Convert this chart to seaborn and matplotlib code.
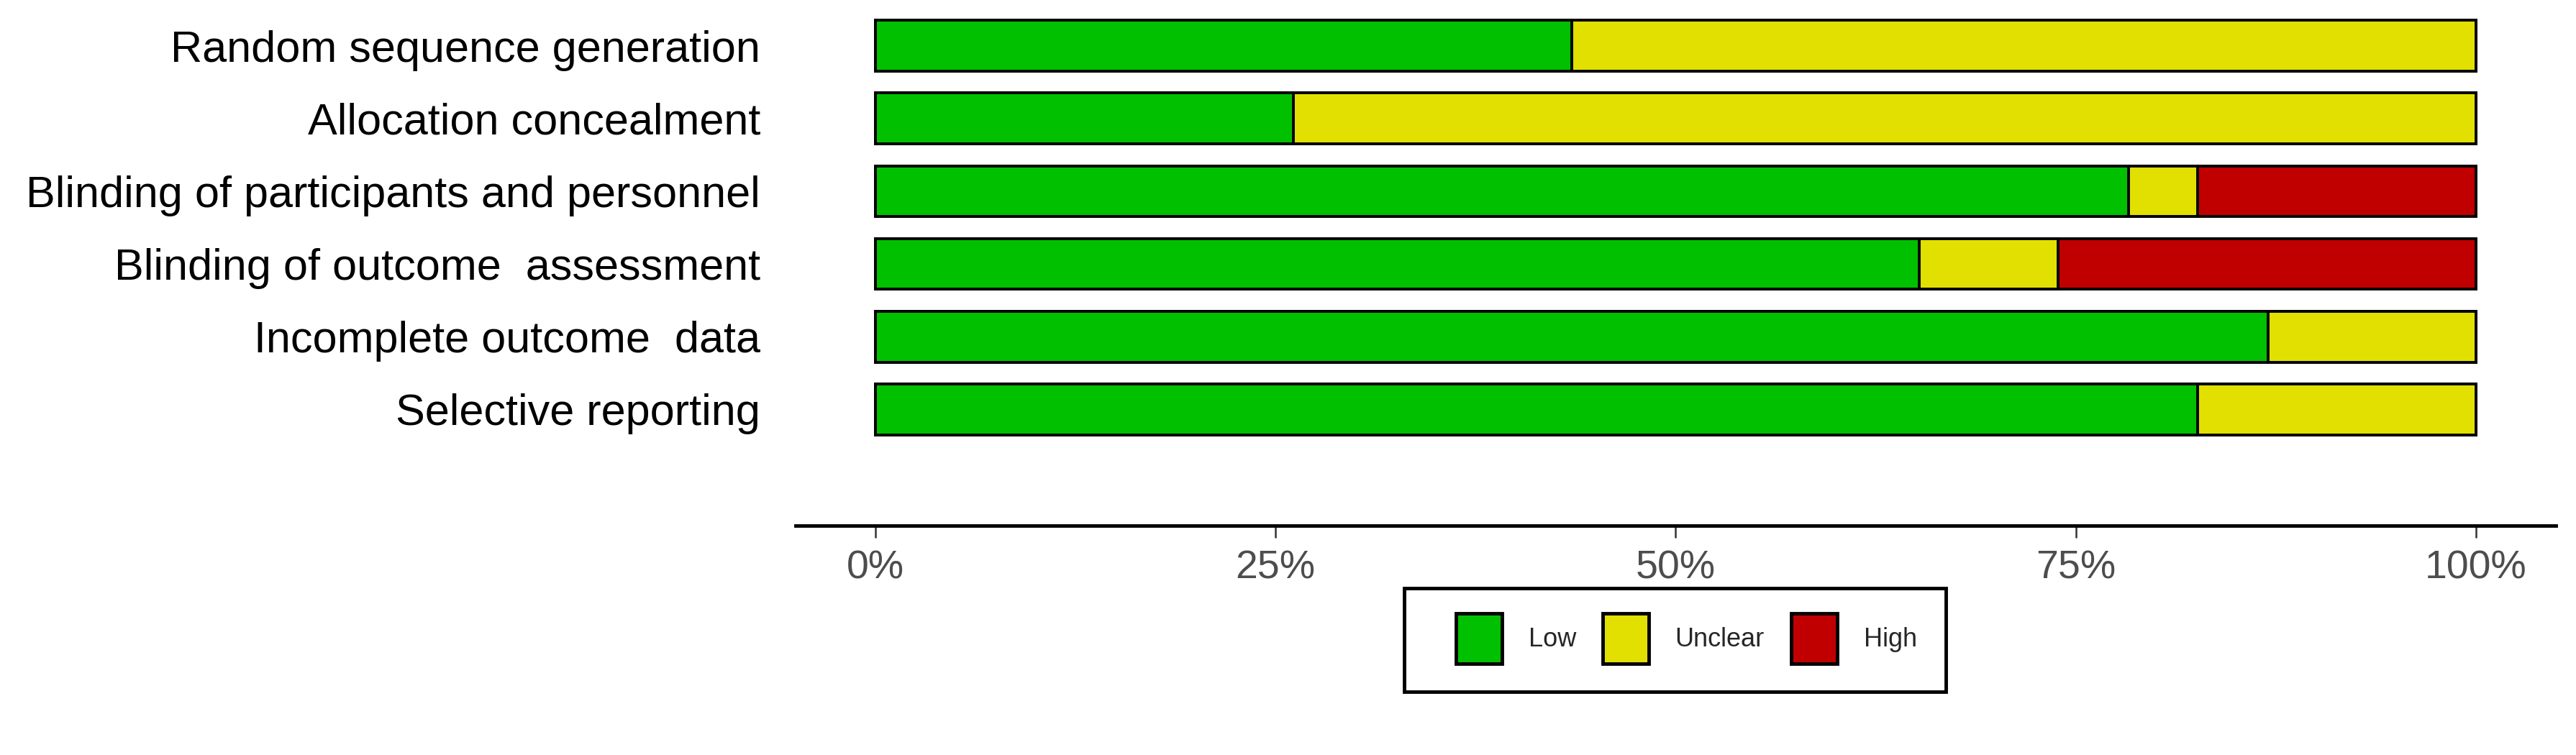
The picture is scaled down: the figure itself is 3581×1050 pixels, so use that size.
import numpy as np
import pandas as pd
import seaborn as sns
import matplotlib.pyplot as plt
from matplotlib.patches import Patch, Rectangle

# risk of bias summary (percent of studies)
domains = ['Random sequence generation', 'Allocation concealment',
           'Blinding of participants and personnel', 'Blinding of outcome  assessment',
           'Incomplete outcome  data', 'Selective reporting']
low = [43.5, 26.1, 78.3, 65.2, 87.0, 82.6]
unclear = [56.5, 73.9, 4.3, 8.7, 13.0, 17.4]
high = [0.0, 0.0, 17.4, 26.1, 0.0, 0.0]
levels = ['Low', 'Unclear', 'High']
colors = {'Low': '#00C000', 'Unclear': '#E2E000', 'High': '#C00000'}
ticks = [0, 25, 50, 75, 100]
tick_labels = ['0%', '25%', '50%', '75%', '100%']

df = pd.DataFrame({'domain': domains, 'Low': low, 'Unclear': unclear, 'High': high})
df['cum_low'] = df['Low']
df['cum_unclear'] = df['Low'] + df['Unclear']
df['cum_high'] = df['cum_unclear'] + df['High']

sns.set_style('white')
plt.rcParams['font.family'] = ['Liberation Sans', 'DejaVu Sans']

fig = plt.figure(figsize=(35.81, 10.5), dpi=100)
ax = fig.add_axes([0.3088, 0.3038, 0.6834, 0.6962])

# stacked bars drawn back to front
for col, lev in [('cum_high', 'High'), ('cum_unclear', 'Unclear'), ('cum_low', 'Low')]:
    sns.barplot(data=df, x=col, y='domain', orient='h', color=colors[lev],
                width=0.7, edgecolor='black', linewidth=2.8, saturation=1, ax=ax)

ax.set_xlim(-5, 105)
ax.set_ylim(6.6, -0.63)
ax.set_xticks(ticks)
ax.set_xticklabels(tick_labels, fontsize=40, color='#4D4D4D')
ax.tick_params(axis='x', length=12, width=1.8, color='#333333', pad=12, bottom=True)
ax.tick_params(axis='y', length=0, pad=35, labelsize=44, labelcolor='black')
ax.set_xlabel('')
ax.set_ylabel('')
for s in ['top', 'right', 'left']:
    ax.spines[s].set_visible(False)
ax.spines['bottom'].set_color('black')
ax.spines['bottom'].set_linewidth(3.5)

# legend entries, box drawn separately (wider left margin like the original)
handles = [Patch(facecolor=colors[l], edgecolor='black', linewidth=3.5) for l in levels]
leg = fig.legend(handles, levels, loc='center left', bbox_to_anchor=(0.5652, 0.1543), ncol=3,
                 fontsize=26, frameon=False, handlelength=1.77, handleheight=2.6,
                 borderpad=0, borderaxespad=0, columnspacing=1.02, handletextpad=1.02)
fig.patches.append(Rectangle((0.5451, 0.0838), 0.2103, 0.1371, transform=fig.transFigure,
                             fill=False, edgecolor='black', linewidth=3.5))

plt.savefig('out.png', dpi=100)
